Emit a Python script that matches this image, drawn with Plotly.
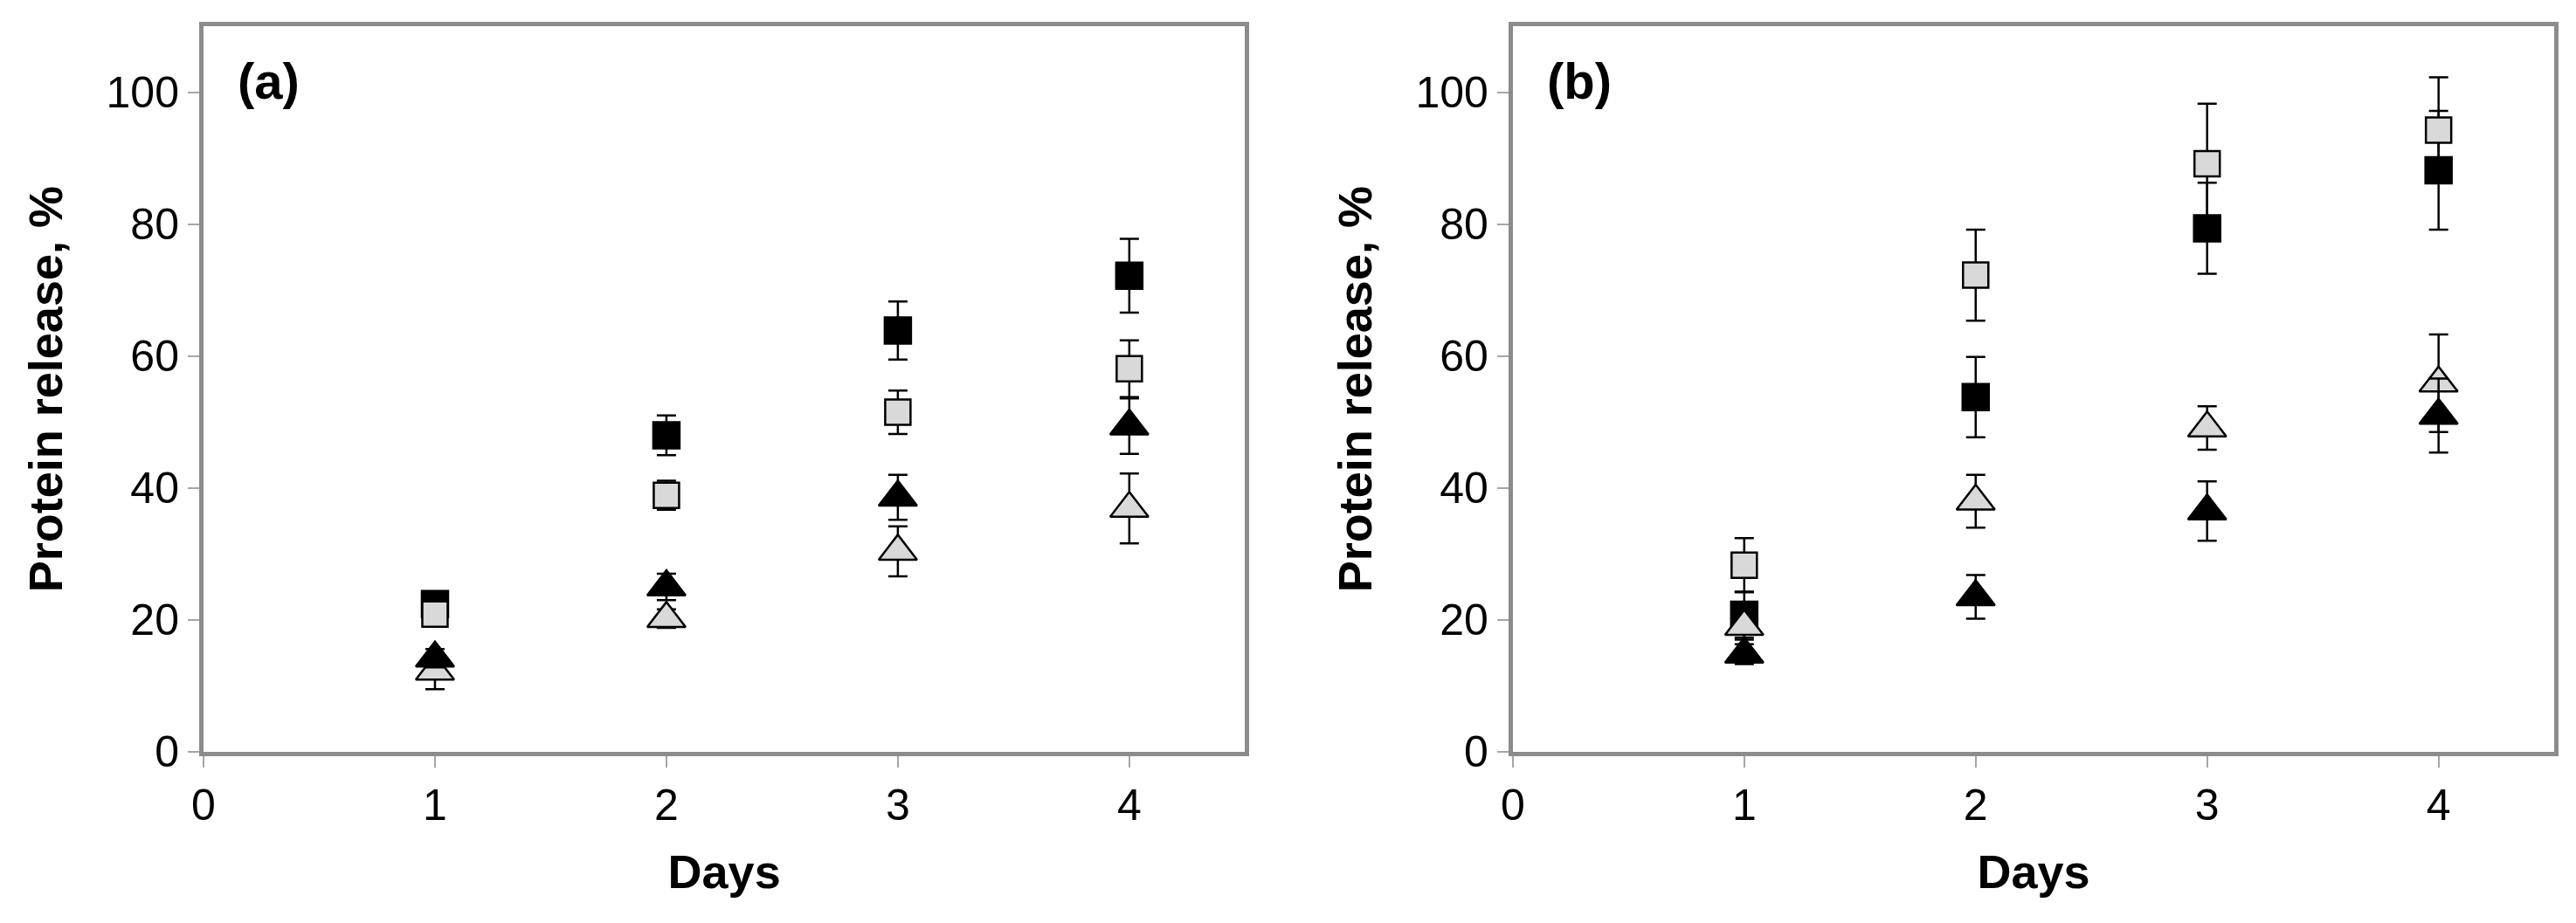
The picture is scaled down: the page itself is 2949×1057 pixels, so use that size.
import plotly.graph_objects as go

days = [1, 2, 3, 4]

# panel (a)
a_black_sq = [22.4, 48.0, 63.9, 72.2]
a_black_sq_err = [1.4, 3.0, 4.4, 5.6]
a_gray_sq = [20.9, 38.9, 51.5, 58.1]
a_gray_sq_err = [1.0, 2.2, 3.3, 4.3]
a_gray_tri = [12.2, 20.2, 30.4, 36.9]
a_gray_tri_err = [2.7, 1.4, 3.8, 5.3]
a_black_tri = [14.2, 25.0, 38.6, 49.4]
a_black_tri_err = [1.4, 2.0, 3.4, 4.2]

# panel (b)
b_black_sq = [20.8, 53.8, 79.4, 88.2]
b_black_sq_err = [3.5, 6.1, 6.9, 9.0]
b_gray_sq = [28.3, 72.3, 89.2, 94.3]
b_gray_sq_err = [4.1, 6.9, 9.1, 8.0]
b_gray_tri = [19.0, 38.0, 49.1, 55.9]
b_gray_tri_err = [2.0, 4.0, 3.3, 7.4]
b_black_tri = [14.8, 23.5, 36.5, 51.0]
b_black_tri_err = [1.5, 3.3, 4.5, 5.6]

GRAY_FILL = '#d9d9d9'
AXIS_GRAY = '#8c8c8c'
FONT = 'Liberation Sans, Arial, sans-serif'


def add_series(fig, y, err, symbol, fill, size, xaxis, yaxis):
    fig.add_trace(go.Scatter(
        x=days, y=y,
        mode='markers',
        marker=dict(symbol=symbol, size=size, color=fill,
                    line=dict(color='black', width=2.5)),
        error_y=dict(type='data', array=err, visible=True,
                     color='black', thickness=2.5, width=11),
        xaxis=xaxis, yaxis=yaxis,
        showlegend=False,
    ))


fig = go.Figure()

for (bs, bse, gs, gse, gt, gte, bt, bte, xa, ya) in [
    (a_black_sq, a_black_sq_err, a_gray_sq, a_gray_sq_err,
     a_gray_tri, a_gray_tri_err, a_black_tri, a_black_tri_err, 'x', 'y'),
    (b_black_sq, b_black_sq_err, b_gray_sq, b_gray_sq_err,
     b_gray_tri, b_gray_tri_err, b_black_tri, b_black_tri_err, 'x2', 'y2'),
]:
    add_series(fig, bs, bse, 'square', 'black', 30, xa, ya)
    add_series(fig, gs, gse, 'square', GRAY_FILL, 29, xa, ya)
    add_series(fig, gt, gte, 'triangle-up', GRAY_FILL, 38, xa, ya)
    add_series(fig, bt, bte, 'triangle-up', 'black', 38, xa, ya)

xaxis_style = dict(
    range=[0, 4.5], tickmode='linear', tick0=0, dtick=1,
    showline=True, mirror=True, linecolor=AXIS_GRAY, linewidth=5,
    ticks='outside', ticklen=13, tickwidth=2, tickcolor='#a6a6a6',
    showgrid=False, zeroline=False,
    tickfont=dict(family=FONT, size=50, color='black'),
    title=dict(text='Days', font=dict(family=FONT, size=54, color='black', weight='bold'),
               standoff=32),
)
yaxis_style = dict(
    range=[0, 110], tickmode='linear', tick0=0, dtick=20,
    showline=True, mirror=True, linecolor=AXIS_GRAY, linewidth=5,
    ticks='outside', ticklen=13, tickwidth=2, tickcolor='#a6a6a6',
    showgrid=False, zeroline=False,
    tickfont=dict(family=FONT, size=50, color='black'),
    title=dict(text='Protein release, %', font=dict(family=FONT, size=54, color='black', weight='bold'),
               standoff=34),
)

top = 1 - 23 / 1057
bottom = 1 - 877 / 1057

fig.update_layout(
    width=2949, height=1057,
    paper_bgcolor='white', plot_bgcolor='white',
    margin=dict(l=0, r=0, t=0, b=0),
    xaxis=dict(domain=[212 / 2949, 1410 / 2949], anchor='y', **xaxis_style),
    yaxis=dict(domain=[bottom, top], anchor='x', **yaxis_style),
    xaxis2=dict(domain=[1718 / 2949, 2916 / 2949], anchor='y2', **xaxis_style),
    yaxis2=dict(domain=[bottom, top], anchor='x2', **yaxis_style),
    annotations=[
        dict(text='(a)', xref='x domain', yref='y domain', x=0.031, y=0.925,
             xanchor='left', yanchor='middle', showarrow=False,
             font=dict(family=FONT, size=58, color='black', weight='bold')),
        dict(text='(b)', xref='x2 domain', yref='y2 domain', x=0.031, y=0.925,
             xanchor='left', yanchor='middle', showarrow=False,
             font=dict(family=FONT, size=58, color='black', weight='bold')),
    ],
)

fig.write_html('out.html')
